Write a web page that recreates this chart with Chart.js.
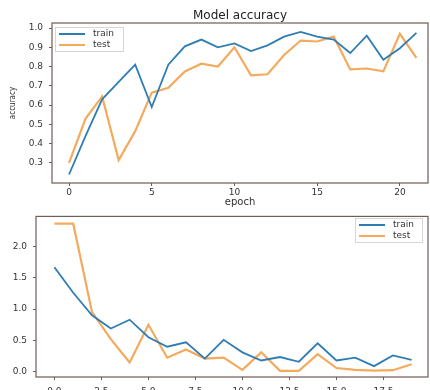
<!DOCTYPE html>
<html>
<head>
<meta charset="utf-8">
<script src="https://cdn.jsdelivr.net/npm/chart.js@4"></script>
<style>
  html, body { margin: 0; padding: 0; background: #fff; }
  #wrap { position: relative; width: 430px; height: 390px; overflow: hidden; }
  #chartAcc { position: absolute; left: 0; top: 0; }
  #chartLoss { position: absolute; left: 0; top: 205px; }
</style>
</head>
<body>
<div id="wrap">
  <canvas id="chartAcc" width="430" height="210"></canvas>
  <canvas id="chartLoss" width="430" height="185"></canvas>
</div>
<script>
"use strict";
// epochs
var accEpochs = [0,1,2,3,4,5,6,7,8,9,10,11,12,13,14,15,16,17,18,19,20,21];
var lossEpochs = [0,1,2,3,4,5,6,7,8,9,10,11,12,13,14,15,16,17,18,19];

// accuracy
var accTrain = [0.24,0.44,0.63,0.72,0.81,0.59,0.81,0.905,0.94,0.90,0.92,0.88,0.91,0.955,0.98,0.955,0.94,0.87,0.96,0.835,0.895,0.975];
var accTest = [0.30,0.53,0.645,0.315,0.465,0.665,0.69,0.775,0.815,0.80,0.90,0.755,0.76,0.86,0.935,0.93,0.955,0.785,0.79,0.775,0.97,0.845];

// loss
var lossTrain = [1.665,1.26,0.90,0.69,0.83,0.55,0.40,0.47,0.21,0.51,0.31,0.18,0.235,0.16,0.455,0.18,0.225,0.09,0.26,0.19];
var lossTest = [2.36,2.36,0.95,0.52,0.15,0.75,0.225,0.355,0.21,0.225,0.03,0.31,0.015,0.015,0.28,0.06,0.03,0.02,0.025,0.12];

// tick labels
var accXTicks = [0,5,10,15,20];
var accYTicks = [0.3,0.4,0.5,0.6,0.7,0.8,0.9,1.0];
var lossXTicks = [0,2.5,5,7.5,10,12.5,15,17.5];
var lossYTicks = [0,0.5,1.0,1.5,2.0];

var blue = '#2f7db3';
var orange = '#f4aa5c';
var frameColor = '#6e5d58';
var textColor = '#333';
var fontFam = '"DejaVu Sans", sans-serif';

function pts(xs, ys) {
    var out = [];
    for (var i = 0; i < xs.length; i++) {
        out.push({x: xs[i], y: ys[i]});
    }
    return out;
}

function fixTicks(list) {
    return function(scale) {
        scale.ticks = list.map(function(v){ return {value: v}; });
    };
}

// box around the plot area, like matplotlib
var framePlugin = {
    id: 'frame',
    afterDatasetsDraw: function(chart) {
        var a = chart.chartArea, ctx = chart.ctx;
        ctx.save();
        ctx.strokeStyle = frameColor;
        ctx.lineWidth = 1.2;
        ctx.strokeRect(a.left, a.top, a.right - a.left, a.bottom - a.top);
        ctx.restore();
    }
};

// legend drawn inside the axes
var boxLegend = {
    id: 'boxLegend',
    afterDraw: function(chart, args, opts) {
        var ctx = chart.ctx;
        var x = opts.x, y = opts.y, w = opts.w, h = opts.h;
        ctx.save();
        ctx.fillStyle = 'rgba(255,255,255,0.85)';
        ctx.strokeStyle = '#d6d6d6';
        ctx.lineWidth = 1;
        ctx.fillRect(x, y, w, h);
        ctx.strokeRect(x + 0.5, y + 0.5, w, h);
        ctx.font = '9px ' + fontFam;
        ctx.textBaseline = 'middle';
        chart.data.datasets.forEach(function(ds, i) {
            var ly = y + 7 + i * 11;
            ctx.strokeStyle = ds.borderColor;
            ctx.lineWidth = 2;
            ctx.beginPath();
            ctx.moveTo(x + 4, ly);
            ctx.lineTo(x + 30, ly);
            ctx.stroke();
            ctx.fillStyle = textColor;
            ctx.fillText(ds.label, x + opts.textOff, ly);
        });
        ctx.restore();
    }
};

var titlePlugin = {
    id: 'plotTitle',
    afterDraw: function(chart, args, opts) {
        if (!opts.text) return;
        var a = chart.chartArea, ctx = chart.ctx;
        ctx.save();
        ctx.font = '12px ' + fontFam;
        ctx.fillStyle = '#222';
        ctx.textAlign = 'center';
        ctx.textBaseline = 'middle';
        ctx.fillText(opts.text, (a.left + a.right) / 2, 16);
        ctx.restore();
    }
};

function lineSet(label, data, color, width) {
    return {
        label: label,
        data: data,
        borderColor: color,
        backgroundColor: color,
        borderWidth: width,
        pointRadius: 0,
        tension: 0,
        fill: false
    };
}

function axisTicks(fmt, pad) {
    return {
        color: textColor,
        font: {family: fontFam, size: 9},
        padding: pad,
        autoSkip: false,
        maxRotation: 0,
        callback: fmt
    };
}

var gridOpts = {drawOnChartArea: false, drawTicks: true, tickLength: 3, color: frameColor};

var chartAcc = new Chart(document.getElementById('chartAcc').getContext('2d'), {
    type: 'line',
    data: {
        datasets: [
            lineSet('train', pts(accEpochs, accTrain), blue, 1.8),
            lineSet('test', pts(accEpochs, accTest), orange, 2.2)
        ]
    },
    options: {
        responsive: false,
        animation: false,
        layout: {padding: {top: 23, right: 2, left: 0, bottom: 0}},
        plugins: {
            legend: {display: false},
            tooltip: {enabled: false},
            boxLegend: {x: 55, y: 27, w: 68, h: 24, textOff: 38},
            plotTitle: {text: 'Model accuracy'}
        },
        scales: {
            x: {
                type: 'linear',
                min: -1.03,
                max: 21.7,
                afterBuildTicks: fixTicks(accXTicks),
                afterFit: function(s){ s.height = 27; },
                grid: gridOpts,
                border: {display: false},
                ticks: axisTicks(function(v){ return String(v); }, 1),
                title: {display: true, text: 'epoch', color: textColor,
                        font: {family: fontFam, size: 10}, padding: {top: 0, bottom: 2}}
            },
            y: {
                type: 'linear',
                min: 0.196,
                max: 1.026,
                afterBuildTicks: fixTicks(accYTicks),
                afterFit: function(s){ s.width = 52; },
                grid: gridOpts,
                border: {display: false},
                ticks: axisTicks(function(v){ return v.toFixed(1); }, 6),
                title: {display: true, text: 'accuracy', color: textColor,
                        font: {family: '"DejaVu Sans Condensed", ' + fontFam, size: 8},
                        padding: {top: 8, bottom: 0}}
            }
        }
    },
    plugins: [framePlugin, boxLegend, titlePlugin]
});

var chartLoss = new Chart(document.getElementById('chartLoss').getContext('2d'), {
    type: 'line',
    data: {
        datasets: [
            lineSet('train', pts(lossEpochs, lossTrain), blue, 1.8),
            lineSet('test', pts(lossEpochs, lossTest), orange, 2.2)
        ]
    },
    options: {
        responsive: false,
        animation: false,
        layout: {padding: {top: 9, right: 2, left: 0, bottom: 0}},
        plugins: {
            legend: {display: false},
            tooltip: {enabled: false},
            boxLegend: {x: 355, y: 13, w: 67, h: 24, textOff: 38},
            plotTitle: {text: ''}
        },
        scales: {
            x: {
                type: 'linear',
                min: -0.98,
                max: 19.87,
                afterBuildTicks: fixTicks(lossXTicks),
                afterFit: function(s){ s.height = 13; },
                grid: gridOpts,
                border: {display: false},
                ticks: axisTicks(function(v){ return v.toFixed(1); }, 6)
            },
            y: {
                type: 'linear',
                min: -0.083,
                max: 2.476,
                afterBuildTicks: fixTicks(lossYTicks),
                afterFit: function(s){ s.width = 36; },
                grid: gridOpts,
                border: {display: false},
                ticks: axisTicks(function(v){ return v.toFixed(1); }, 6)
            }
        }
    },
    plugins: [framePlugin, boxLegend, titlePlugin]
});
</script>
</body>
</html>
